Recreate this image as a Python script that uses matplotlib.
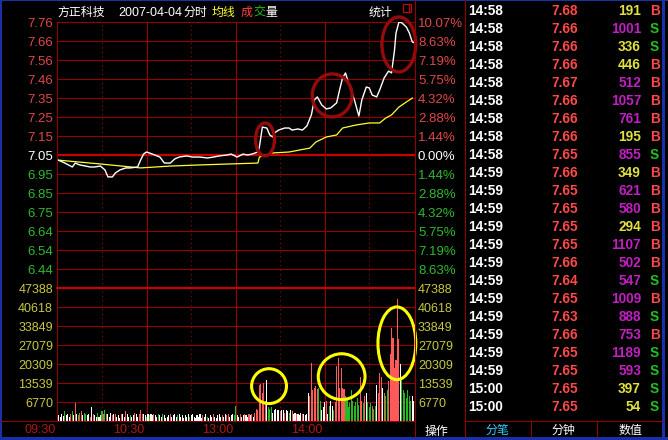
import matplotlib
matplotlib.use('Agg')
import matplotlib.pyplot as plt
from matplotlib.patches import Ellipse, Rectangle
from matplotlib.lines import Line2D

# ---------------- data ----------------
stock_name = '方正科技'
trade_date = '2007-04-04'
prev_close = 7.05
top_pct = 10.07
vol_top = 47388

price_labels_up = ['7.76', '7.66', '7.56', '7.46', '7.35', '7.25', '7.15']
price_labels_dn = ['6.95', '6.85', '6.75', '6.64', '6.54', '6.44']
pct_labels_up = ['10.07%', '8.63%', '7.19%', '5.75%', '4.32%', '2.88%', '1.44%']
pct_labels_dn = ['1.44%', '2.88%', '4.32%', '5.75%', '7.19%', '8.63%']
vol_labels = ['47388', '40618', '33849', '27079', '20309', '13539', '6770']
time_labels = ['09:30', '10:30', '13:00', '14:00']
time_label_min = [0, 60, 120, 180]

# price line (minute index from 09:30, price)
price_min = [0, 2, 5, 10, 12, 15, 19, 22, 25, 29, 32, 34, 37, 39, 42, 46, 49, 54, 56, 58,
             60, 64, 69, 72, 76, 79, 82, 87, 91, 96, 101, 105, 109, 114, 117, 121, 125, 128,
             131, 135, 136, 138, 141, 143, 145, 146, 149, 153, 156, 158, 162, 165, 168, 171,
             173, 175, 178, 181, 184, 188, 190, 192, 194, 196, 200, 203, 205, 208, 210, 212,
             215, 217, 220, 223, 225, 227, 228, 230, 232, 235, 237, 239, 240]
price_val = [7.023, 7.018, 7.007, 6.986, 7.007, 6.997, 6.991, 6.986, 6.986, 6.991, 6.970,
             6.933, 6.933, 6.954, 6.970, 6.981, 6.981, 6.986, 7.023, 7.055, 7.066, 7.055,
             7.039, 7.007, 7.007, 7.029, 7.039, 7.045, 7.039, 7.039, 7.034, 7.039, 7.045,
             7.050, 7.055, 7.039, 7.055, 7.050, 7.055, 7.066, 7.093, 7.199, 7.194, 7.157,
             7.146, 7.167, 7.183, 7.194, 7.194, 7.183, 7.189, 7.183, 7.205, 7.264, 7.344,
             7.360, 7.317, 7.296, 7.301, 7.328, 7.397, 7.461, 7.488, 7.434, 7.344, 7.258,
             7.344, 7.413, 7.408, 7.370, 7.360, 7.397, 7.461, 7.498, 7.488, 7.610, 7.701,
             7.760, 7.755, 7.733, 7.701, 7.653, 7.650]

avg_min = [0, 29, 56, 76, 96, 135, 136, 145, 156, 170, 174, 181, 188, 192, 201, 210, 217,
           221, 225, 230, 235, 239]
avg_val = [7.023, 7.002, 6.981, 6.991, 6.997, 7.007, 7.039, 7.061, 7.066, 7.087, 7.119,
           7.146, 7.157, 7.194, 7.210, 7.221, 7.221, 7.247, 7.264, 7.306, 7.333, 7.354]

# per-minute volume (241 minutes) and bar colour (r up, g down, w flat)
volume = [
    3220, 1790, 1430, 2150, 1760, 3220, 1820, 2150, 1430, 2500,
    3220, 1790, 6080, 2150, 1790, 2860, 3220, 1790, 2860, 2500,
    1790, 2150, 1430, 4650, 2150, 1790, 1430, 2860, 1430, 1790,
    3220, 2150, 3580, 2500, 2150, 1430, 2860, 1790, 2500, 2150,
    1430, 1790, 1070, 2150, 2150, 1430, 3220, 2150, 1430, 1790,
    1430, 1790, 2860, 2150, 1430, 2500, 3580, 2500, 2150, 1790,
    1430, 2150, 1790, 2500, 1790, 2500, 1790, 1430, 2150, 1790,
    1430, 2500, 1790, 1070, 1430, 1790, 2150, 1430, 1790, 2500,
    1430, 1790, 2150, 1430, 1790, 1070, 1790, 1430, 2150, 1430,
    1790, 2150, 1430, 1070, 1790, 1430, 2150, 1070, 1790, 1430,
    2150, 1430, 1070, 1790, 1430, 2150, 1430, 1070, 1790, 2150,
    1430, 1790, 1430, 2150, 1790, 2500, 1430, 1790, 2150, 1790,
    5010,
    1790, 1430, 2150, 1430, 1790, 2500, 1790, 1430, 2150, 1790,
    2150, 1430, 2860, 4290, 3580, 12520, 13230, 9660, 13590, 7150,
    14660, 4650, 4290, 4650,
    2860, 3930, 4290, 3580, 3930, 3220, 3930, 3580, 2860, 3580,
    3220, 2860, 3930, 3220, 2150, 2860, 2500, 2500, 1790, 2860,
    2500, 2500, 1790, 2150,
    9660, 8940, 20740, 10730, 11800, 12160, 11440, 11800, 7150, 3580,
    4650, 6440, 7150, 2500, 5360, 7150, 5360, 3580, 6440, 19670,
    22530, 11800, 18600, 11800, 11440, 8940, 7870, 4650, 6080, 10730,
    7150, 5360, 6440, 8220, 5720, 15380, 7150, 6080, 8940, 10010,
    6440, 4650, 6080, 5360, 4290, 5010, 12520, 9660, 16810, 15380,
    11800, 10010, 8940, 10730, 14300, 23960, 33260, 29680, 18950, 21460,
    43630, 29320, 20380, 15020, 10730, 10010, 7870, 10730, 8940, 7150,
    8940, 7150]
vol_dir = ("gwwwwgwwwr" "gwrwrgrwgg" "wwrwrwwgww" "grgrwwwrwr" "wwwrwwrwwg"
           "wwrwwrrrww" "gwgwwrwwgw" "wgwwwwrwww" "wgwwwwwwwg" "wwwwwwwwrw"
           "wgwwwrwwww" "wrwwrrwwwg" "g"
           "wwrwwrwwrw" "rwrrrrrrrr" "wggg"
           "wwwwwrwwrw" "wgwrwwrwww" "rwww"
           "wrrrrrrggw" "wwrwgwwgrr" "rrrrrggggg" "gggggrrgrw" "gggrggwrrr"
           "wrggrrrrrr" "rrwggggggg" "ww")

# tick tape on the right
tick_time = ['14:58'] * 9 + ['14:59'] * 12 + ['15:00'] * 2
tick_price = ['7.68', '7.66', '7.66', '7.66', '7.67', '7.66', '7.66', '7.66', '7.65',
              '7.66', '7.65', '7.65', '7.65', '7.65', '7.66', '7.64', '7.65', '7.63',
              '7.66', '7.65', '7.65', '7.65', '7.65']
tick_vol = [191, 1001, 336, 446, 512, 1057, 761, 195, 855, 349, 621, 580, 294, 1107,
            502, 547, 1009, 888, 753, 1189, 593, 397, 54]
tick_side = ['B', 'S', 'S', 'B', 'B', 'B', 'B', 'B', 'S', 'B', 'B', 'B', 'B', 'B',
             'B', 'S', 'B', 'S', 'B', 'S', 'S', 'S', 'S']
tab_labels = ['分笔', '分钟', '数值']

# ---------------- style ----------------
W, H = 668, 440
FAM = ['Liberation Sans', 'Noto Sans CJK SC', 'DejaVu Sans']
GRID = '#960000'
GRID_HI = '#c80000'
LBL_RED = '#e04848'
LBL_GRN = '#30b830'
LBL_YEL = '#c8c840'
TXT_RED = '#ff4848'
TXT_GRN = '#20c020'
TXT_YEL = '#e0e040'
TXT_MAG = '#c020c0'
BLUE = '#1830a8'
BAR_COL = {'r': '#ff5a5a', 'g': '#22bb22', 'w': '#ffffff'}

fig = plt.figure(figsize=(W / 100, H / 100), dpi=100, facecolor='black')


def fx(x):
    return x / W


def fy(y):
    return 1 - y / H


def ftext(x, y, s, color, size, ha='left', weight='normal'):
    fig.text(fx(x), fy(y), s, color=color, fontsize=size, ha=ha, va='baseline',
             fontweight=weight, family=FAM)


def fline(x0, y0, x1, y1, color=GRID, lw=0.75, ls='-'):
    fig.add_artist(Line2D([fx(x0), fx(x1)], [fy(y0), fy(y1)], color=color, lw=lw,
                          ls=ls, transform=fig.transFigure))


step = prev_close * top_pct / 7 / 100
vol_step = vol_top / 7

ax_p = fig.add_axes([fx(57), fy(288), 358 / W, 266 / H])
ax_v = fig.add_axes([fx(57), fy(420.5), 358 / W, 132.5 / H])
for ax in (ax_p, ax_v):
    ax.set_facecolor('black')
    ax.set_xlim(-0.3, 240.8)
    ax.set_axis_off()
ax_p.set_ylim(prev_close - 7 * step, prev_close + 7 * step)
ax_v.set_ylim(0, vol_top)

# grid
for k in range(-6, 8):
    lvl = prev_close + k * step
    if k == 0:
        ax_p.axhline(lvl, color=GRID_HI, lw=1.6, zorder=1)
    else:
        ax_p.axhline(lvl, color=GRID, lw=0.8, zorder=1, clip_on=False)
for k in range(1, 8):
    if k == 7:
        ax_v.axhline(k * vol_step, color=GRID_HI, lw=1.6, zorder=1, clip_on=False)
    else:
        ax_v.axhline(k * vol_step, color=GRID, lw=0.8, zorder=1)
for m in [30, 60, 90, 120, 150, 180, 210]:
    ls = '-' if m % 60 == 0 else (0, (1, 3))
    for ax in (ax_p, ax_v):
        ax.axvline(m, color=GRID, lw=0.8, ls=ls, zorder=1)

# frame lines
fline(57, 22, 57, 420.5)
fline(0, 420.5, 415, 420.5)
fline(415, 0, 415, 437)
fline(465, 0, 465, 437)
fline(465, 420.5, 663, 420.5)
fline(531, 420.5, 531, 437)
fline(597, 420.5, 597, 437)

# volume bars
mins = list(range(len(volume)))
ax_v.bar(mins, volume, width=0.72, color=[BAR_COL[c] for c in vol_dir],
         linewidth=0, antialiased=False, zorder=2)

# price and average lines
ax_p.plot(avg_min, avg_val, color='#ffff30', lw=0.9, zorder=3)
ax_p.plot(price_min, price_val, color='white', lw=1.0, zorder=4)

# annotation ellipses
for (cx, cy, w, h) in [(139.8, 7.133, 12.7, 0.176), (185.0, 7.368, 26.8, 0.2295),
                       (229.9, 7.640, 22.8, 0.2936)]:
    ax_p.add_patch(Ellipse((cx, cy), w, h, fill=False, ec='#960a0a', lw=2.4,
                           zorder=5, clip_on=False))
for (cx, cy, w, h) in [(142.5, 12292, 23.5, 12470), (191.4, 15677, 31.5, 16390),
                       (228.6, 27613, 25.5, 26010)]:
    ax_v.add_patch(Ellipse((cx, cy), w, h, fill=False, ec='#ffff00', lw=2.2,
                           zorder=5, clip_on=False))

# axis labels
for i, s in enumerate(price_labels_up):
    y = 22 + 19 * i + 4.7
    ftext(53, y, s, LBL_RED, 9.5, ha='right')
    ftext(418, y, pct_labels_up[i], LBL_RED, 9.5)
ftext(53, 155 + 4.7, '7.05', 'white', 9.5, ha='right')
ftext(418, 155 + 4.7, '0.00%', 'white', 9.5)
for i, s in enumerate(price_labels_dn):
    y = 174 + 19 * i + 4.7
    ftext(53, y, s, LBL_GRN, 9.5, ha='right')
    ftext(418, y, pct_labels_dn[i], LBL_GRN, 9.5)
for i, s in enumerate(vol_labels):
    y = 288 + 19 * i + 4.7
    ftext(53, y, s, LBL_YEL, 9.0, ha='right')
    ftext(418, y, s, LBL_YEL, 9.0)
for s, m in zip(time_labels, time_label_min):
    x = 57 + m * 358 / 241.1 - 1.5
    ftext(x, 433, s, '#b01818', 9.0, ha='right')

# header
ftext(58, 16, stock_name, 'white', 8.6)
ftext(118, 16, trade_date, 'white', 9.0)
ftext(184, 16, '分时', 'white', 8.6)
ftext(212, 16, '均线', '#ffff30', 8.6)
ftext(241, 16, '成', '#ff4040', 8.6)
ftext(253, 16, '交', '#20c020', 8.6)
ftext(265, 16, '量', 'white', 8.6)
ftext(369, 16, '统计', 'white', 8.6)
fig.add_artist(Rectangle((fx(403), fy(12.5)), 8 / W, 8 / H, fill=False, ec='#b01010',
                         lw=0.9, transform=fig.transFigure))
fline(409, 5, 409, 12, color='#b01010', lw=0.9)

# bottom bar
ftext(425, 435, '操作', 'white', 8.6)
for s, cx, col in zip(tab_labels, [497.5, 563.5, 630], ['#30d0ff', 'white', 'white']):
    ftext(cx, 434, s, col, 8.6, ha='center')

# tick tape
for i in range(len(tick_time)):
    y = 15 + 18 * i
    ftext(468, y, tick_time[i], 'white', 9.8, weight='bold')
    ftext(578, y, tick_price[i], TXT_RED, 9.8, ha='right', weight='bold')
    vc = TXT_MAG if tick_vol[i] >= 500 else TXT_YEL
    ftext(641, y, str(tick_vol[i]), vc, 9.8, ha='right', weight='bold')
    sc = TXT_RED if tick_side[i] == 'B' else TXT_GRN
    ftext(650, y, tick_side[i], sc, 9.8, weight='bold')

# blue window border
for (x, y, w, h) in [(0, 0, W, 1.5), (0, 437, W, 3), (0, 0, 1.5, H), (662, 0, 2.5, 437)]:
    fig.add_artist(Rectangle((fx(x), fy(y + h)), w / W, h / H, color=BLUE, lw=0,
                             transform=fig.transFigure))

fig.savefig('out.png', dpi=100, facecolor='black')
